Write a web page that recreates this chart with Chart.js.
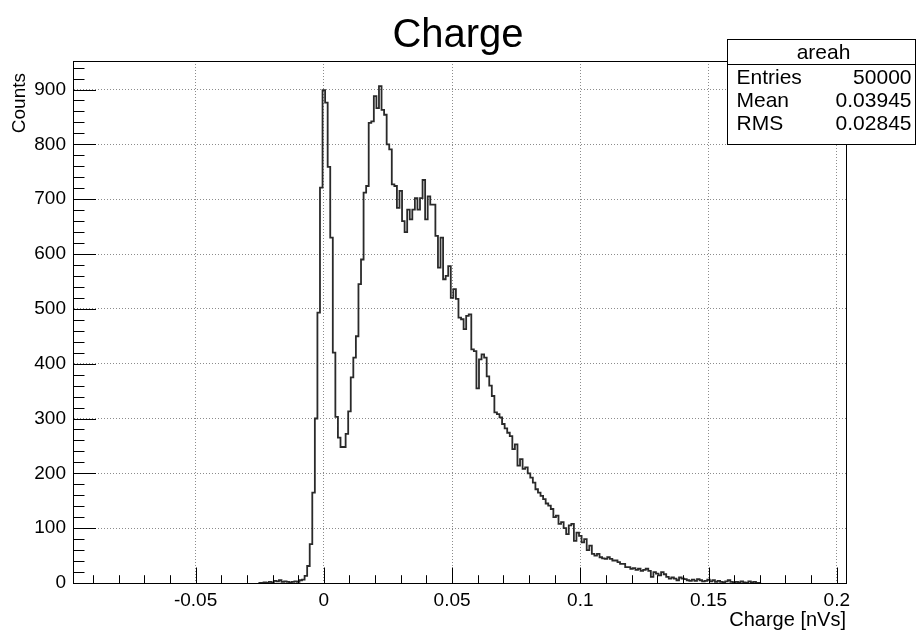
<!DOCTYPE html>
<html>
<head>
<meta charset="utf-8">
<script src="https://cdn.jsdelivr.net/npm/chart.js@4.4.0/dist/chart.umd.min.js"></script>
<style>
  html, body { margin: 0; padding: 0; background: #fff; }
</style>
</head>
<body>
<canvas id="myChart" width="916" height="633"></canvas>
<script>
// histogram "areah": bins of 0.001 nVs, first bin centred on -0.025
const binWidth = 0.001
const firstBinCentre = -0.025
const counts = [
    0, 0, 1, 0, 2, 1, 4, 3, 5, 2, 3, 2, 1, 2, 3, 2, 5, 6,          // -0.025 .. -0.008
    13, 31, 71, 165, 300, 493, 721,                                  // -0.007 .. -0.001
    899, 876, 759, 630, 420, 303, 265, 248, 248, 272,                // 0.000 .. 0.009
    313, 375, 411, 450, 545, 590, 712, 724, 839, 842,                // 0.010 .. 0.019
    888, 866, 906, 863, 854, 800, 791, 727, 724, 684,                // 0.020 .. 0.029
    715, 660, 640, 681, 663, 681, 702, 681, 702, 735,                // 0.030 .. 0.039
    663, 705, 690, 690, 633, 575, 630, 554, 560, 578,                // 0.040 .. 0.049
    520, 536, 518, 484, 481, 463, 487, 490, 426, 423,                // 0.050 .. 0.059
    355, 408, 417, 411, 377, 360, 341, 311, 308, 302,                // 0.060 .. 0.069
    290, 282, 274, 268, 244, 253, 214, 226, 208, 211,                // 0.070 .. 0.079
    200, 192, 183, 171, 165, 159, 153, 145, 141, 135,                // 0.080 .. 0.089
    120, 123, 108, 111, 100, 89, 105, 108, 77, 92,                   // 0.090 .. 0.099
    86, 74, 80, 60, 68, 53, 50, 53, 47, 45,                          // 0.100 .. 0.109
    44, 47, 44, 41, 41, 38, 35, 35, 29, 29,                          // 0.110 .. 0.119
    26, 27, 24, 26, 22, 24, 26, 22, 11, 20,                          // 0.120 .. 0.129
    17, 14, 20, 16, 11, 8, 10, 8, 5, 10,                             // 0.130 .. 0.139
    8, 7, 5, 4, 6, 4, 7, 5, 3, 4,                                    // 0.140 .. 0.149
    6, 3, 5, 2, 4, 2, 1, 3, 5, 2,                                    // 0.150 .. 0.159
    0, 2, 1, 3, 1, 0, 3, 1, 2, 0, 0                                  // 0.160 .. 0.170
]

const xRange = [-0.0978, 0.2036]
const yMax = 952
const xTicks = [-0.05, 0, 0.05, 0.1, 0.15, 0.2]
const yTicks = [0, 100, 200, 300, 400, 500, 600, 700, 800, 900]
const xMinorStep = 0.01
const yMinorStep = 20

const statsTitle = 'areah'
const statsNames = ['Entries', 'Mean', 'RMS']
const statsValues = ['50000', '0.03945', '0.02845']

const fontFamily = "'Liberation Sans', Arial, Helvetica, sans-serif"

// one point on each bin's low edge, stepped so the value holds across the bin
const points = counts.map((c, i) => ({ x: firstBinCentre + (i - 0.5) * binWidth, y: c }))
points.push({ x: firstBinCentre + (counts.length - 0.5) * binWidth, y: 0 })

// ROOT style frame with inward major/minor ticks and the y title at the top
const rootFrame = {
    id: 'rootFrame',
    afterDatasetsDraw(chart) {
        const ctx = chart.ctx
        const area = chart.chartArea
        const xs = chart.scales.x
        const ys = chart.scales.y
        ctx.save()
        ctx.strokeStyle = '#000'
        ctx.lineWidth = 1
        ctx.beginPath()
        const first = Math.ceil(xRange[0] / xMinorStep)
        const last = Math.floor(xRange[1] / xMinorStep)
        for (let i = first; i <= last; i++) {
            const v = i * xMinorStep
            const px = Math.round(xs.getPixelForValue(v)) + 0.5
            const len = (i % 5 === 0) ? 15.5 : 7.8
            ctx.moveTo(px, area.bottom)
            ctx.lineTo(px, area.bottom - len)
        }
        for (let v = 0; v <= yMax; v += yMinorStep) {
            const py = Math.round(ys.getPixelForValue(v)) + 0.5
            const len = (v % 100 === 0) ? 23 : 11.5
            ctx.moveTo(area.left, py)
            ctx.lineTo(area.left + len, py)
        }
        ctx.stroke()
        ctx.strokeRect(Math.round(area.left) + 0.5, Math.round(area.top) + 0.5,
            Math.round(area.right - area.left), Math.round(area.bottom - area.top))

        ctx.fillStyle = '#000'
        ctx.font = '19px ' + fontFamily
        ctx.translate(20, area.top + 12)
        ctx.rotate(-Math.PI / 2)
        ctx.textAlign = 'right'
        ctx.textBaseline = 'middle'
        ctx.fillText('Counts', 0, 0)
        ctx.restore()
    }
}

// the stats box in the top right corner
const statsBox = {
    id: 'statsBox',
    afterDraw(chart) {
        const ctx = chart.ctx
        const left = 727.5, right = 915.5, top = 39.5, bottom = 144.5, head = 64.5
        ctx.save()
        ctx.fillStyle = '#fff'
        ctx.fillRect(left, top, right - left, bottom - top)
        ctx.strokeStyle = '#000'
        ctx.lineWidth = 1
        ctx.strokeRect(left, top, right - left, bottom - top)
        ctx.beginPath()
        ctx.moveTo(left, head)
        ctx.lineTo(right, head)
        ctx.stroke()
        ctx.fillStyle = '#000'
        ctx.font = '21px ' + fontFamily
        ctx.textBaseline = 'middle'
        ctx.textAlign = 'center'
        ctx.fillText(statsTitle, (left + right) / 2 + 2, 53)
        statsNames.forEach((name, i) => {
            const y = 78.5 + i * 23
            ctx.textAlign = 'left'
            ctx.fillText(name, left + 9, y)
            ctx.textAlign = 'right'
            ctx.fillText(statsValues[i], right - 4, y)
        })
        ctx.restore()
    }
}

const data = {
    datasets: [{
        label: statsTitle,
        data: points,
        stepped: true,
        borderColor: '#2a2a2a',
        borderWidth: 1.8,
        pointRadius: 0,
        fill: false
    }]
}

const config = {
    type: 'line',
    data: data,
    options: {
        responsive: false,
        animation: false,
        devicePixelRatio: 1,
        layout: { padding: 0 },
        plugins: {
            legend: { display: false },
            tooltip: { enabled: false },
            title: {
                display: true,
                text: 'Charge',
                color: '#000',
                font: { family: fontFamily, size: 40, weight: 'normal' },
                padding: { top: 12, bottom: 1 }
            }
        },
        scales: {
            x: {
                type: 'linear',
                min: xRange[0],
                max: xRange[1],
                afterBuildTicks: (s) => { s.ticks = xTicks.map(v => ({ value: v })) },
                afterFit: (s) => { s.height = 50 },
                ticks: {
                    color: '#000',
                    padding: 6,
                    maxRotation: 0,
                    autoSkip: false,
                    font: { family: fontFamily, size: 19 },
                    callback: (v) => String(+Number(v).toFixed(3))
                },
                grid: { color: '#8c8c8c', lineWidth: 1, drawTicks: false },
                border: { display: true, color: '#000', width: 1, dash: [1, 2] },
                title: {
                    display: true,
                    text: 'Charge [nVs]',
                    align: 'end',
                    color: '#000',
                    font: { family: fontFamily, size: 20 },
                    padding: { top: 0, bottom: 1 }
                }
            },
            y: {
                min: 0,
                max: yMax,
                afterBuildTicks: (s) => { s.ticks = yTicks.map(v => ({ value: v })) },
                afterFit: (s) => { s.width = 73 },
                ticks: {
                    color: '#000',
                    padding: 7,
                    autoSkip: false,
                    font: { family: fontFamily, size: 19 }
                },
                grid: { color: '#8c8c8c', lineWidth: 1, drawTicks: false },
                border: { display: true, color: '#000', width: 1, dash: [1, 2] }
            },
            // empty right margin so the frame ends where ROOT's does
            margin: {
                position: 'right',
                afterFit: (s) => { s.width = 70 },
                ticks: { display: false },
                grid: { display: false },
                border: { display: false }
            }
        }
    },
    plugins: [rootFrame, statsBox]
}

document.addEventListener('DOMContentLoaded', () => {
    new Chart(document.querySelector('#myChart'), config)
})
</script>
</body>
</html>
